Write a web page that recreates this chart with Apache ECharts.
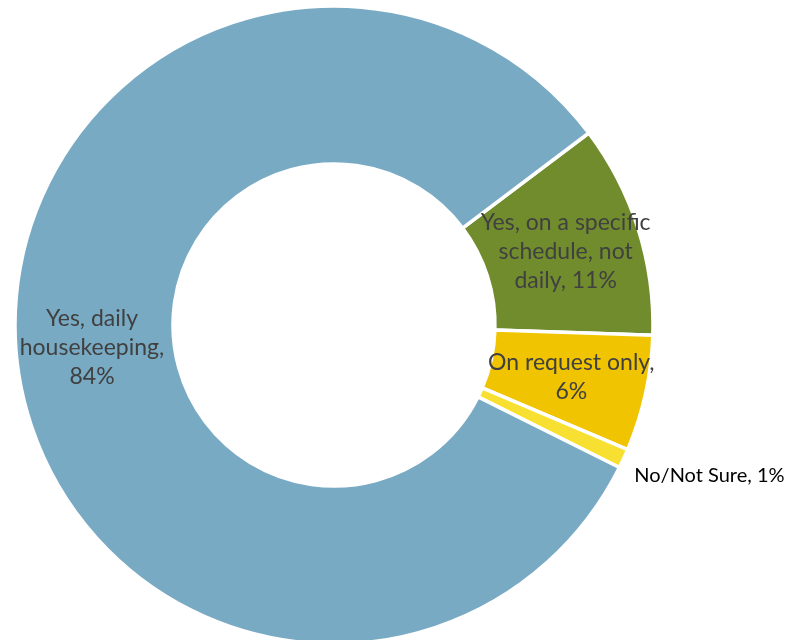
<!DOCTYPE html>
<html>
<head>
<meta charset="utf-8">
<script src="https://cdn.jsdelivr.net/npm/echarts@6/dist/echarts.min.js"></script>
<style>
  html, body { margin: 0; padding: 0; background: #fff; }
  #chart { width: 787px; height: 640px; }
</style>
</head>
<body>
<div id="chart"></div>
<script>
// Housekeeping frequency responses (share of respondents, %)
const categories = [
  'Yes, on a specific\nschedule, not\ndaily',
  'On request only',
  'No/Not Sure',
  'Yes, daily\nhousekeeping'
];
const values = [11, 6, 1, 84];
const colors = ['#718C2D', '#F0C400', '#F8E032', '#79AAC4'];
// text placed between the category name and its percentage
const valueSeparators = [', ', ',\n', ', ', ',\n'];
// slices whose label sits outside the ring
const outsideLabels = ['No/Not Sure'];

const fontFamily = 'Lato, "Open Sans", sans-serif';

const seriesData = categories.map((name, i) => {
  const outside = outsideLabels.includes(name);
  const item = {
    name: name,
    value: values[i],
    itemStyle: { color: colors[i] },
    label: outside
      ? { position: 'outside', fontFamily, fontSize: 20, color: '#000000', distanceToLabelLine: 5 }
      : { position: 'inside', fontFamily, fontSize: 23, lineHeight: 29, color: '#404040' }
  };
  if (outside) {
    item.labelLine = { show: false, length: 4, length2: 0 };
  }
  return item;
});

const chart = echarts.init(document.getElementById('chart'), null, { renderer: 'canvas' });
chart.setOption({
  animation: false,
  backgroundColor: '#ffffff',
  series: [{
    type: 'pie',
    center: [334, 325],
    radius: [161, 319],
    startAngle: 37,
    clockwise: true,
    avoidLabelOverlap: false,
    itemStyle: { borderColor: '#ffffff', borderWidth: 3.5 },
    label: {
      formatter: (p) => p.name + valueSeparators[p.dataIndex] + p.value + '%'
    },
    labelLine: { show: false },
    // drop the outside label a little below the slice edge
    labelLayout: (p) => outsideLabels.includes(categories[p.dataIndex]) ? { dy: 15, dx: 2 } : {},
    emphasis: { disabled: true },
    data: seriesData
  }]
});
</script>
</body>
</html>
